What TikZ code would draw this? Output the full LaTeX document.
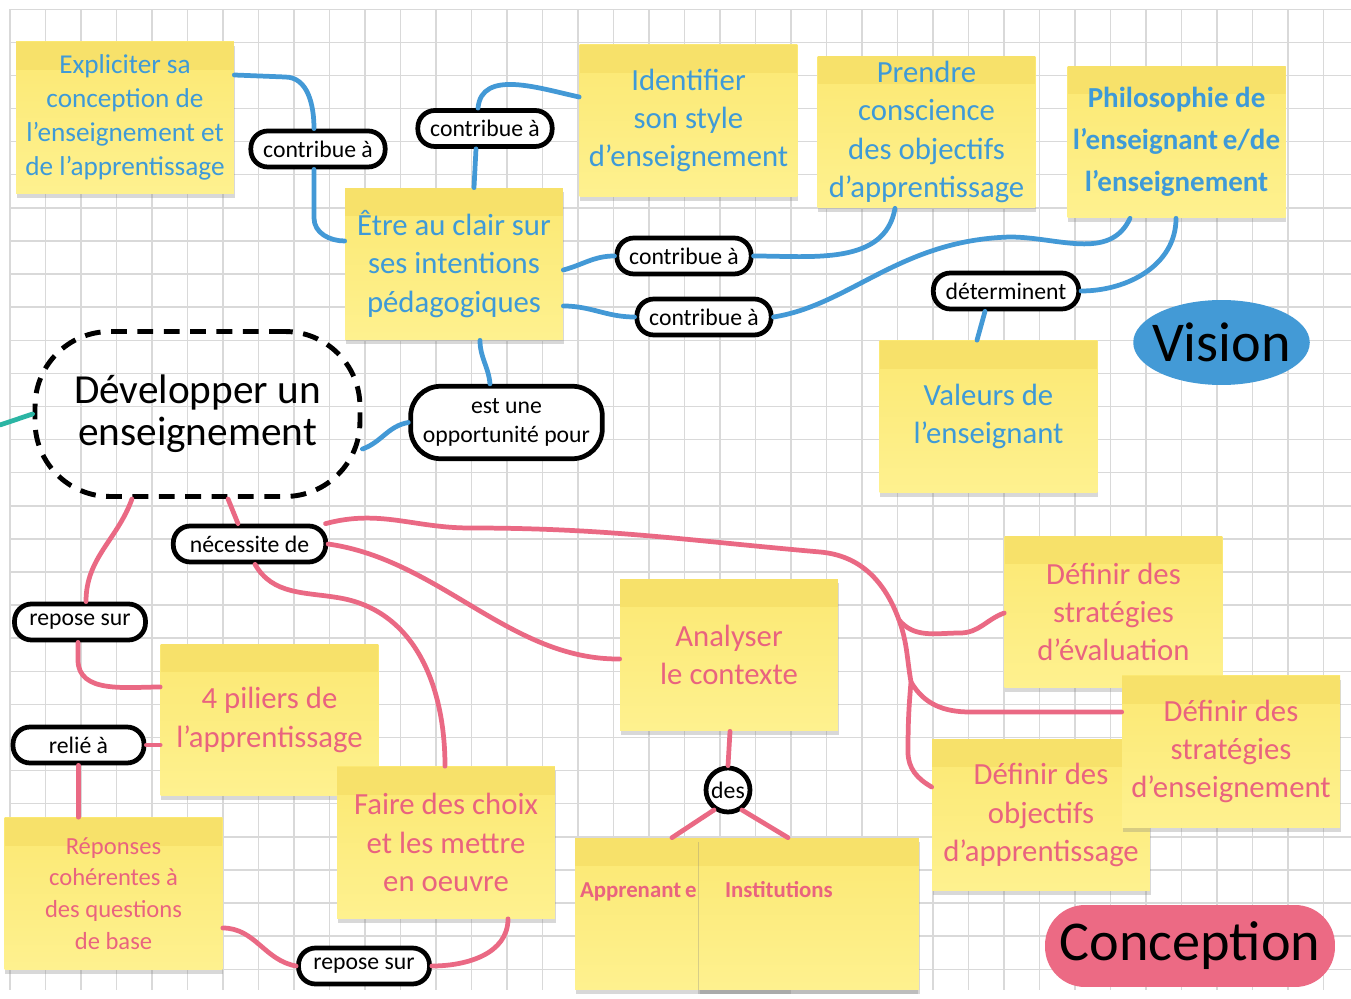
\documentclass[tikz,border=0pt]{standalone}
\usepackage{fontspec}
\setmainfont{Carlito}
\usetikzlibrary{shapes.geometric,shadows,positioning}
\definecolor{notetop}{HTML}{F7E16A}
\definecolor{notebody}{HTML}{FBE872}
\definecolor{notebot}{HTML}{FEF18F}
\definecolor{bluetxt}{HTML}{3E9AD8}
\definecolor{pinktxt}{HTML}{E9637F}
\definecolor{blueline}{HTML}{4399D6}
\definecolor{pinkline}{HTML}{EA6984}
\definecolor{tealline}{HTML}{2BB5A4}
\definecolor{gridgray}{HTML}{D9D9D9}
\definecolor{visionblue}{HTML}{439AD6}
\definecolor{conceptpink}{HTML}{EC6A84}

\begin{document}
\begin{tikzpicture}[x=0.02cm, y=-0.02cm,
  gridline/.style={draw=gridgray, line width=0.8pt},
  note/.style={top color=notebody, bottom color=notebot, minimum width=4.36cm, minimum height=3.04cm, align=center, inner sep=2pt, font=\fontsize{17.5}{21.7}\selectfont, drop shadow={shadow xshift=0.4pt, shadow yshift=-2.4pt, opacity=0.3}, path picture={\fill[notetop] (path picture bounding box.north west) rectangle ([yshift=-0.56cm]path picture bounding box.north east);}},
  bubble/.style={draw=black, line width=2.7pt, fill=white, rounded corners=0.34cm, minimum width=2.62cm, minimum height=0.72cm, inner xsep=7pt, inner ysep=2pt, font=\fontsize{13.5}{16.4}\selectfont},
  blob/.style={text=black, inner sep=0pt, font=\fontsize{32}{32}\selectfont},
  bline/.style={draw=blueline, line width=2.7pt, line cap=round},
  pline/.style={draw=pinkline, line width=2.7pt, line cap=round},
  tline/.style={draw=tealline, line width=2.7pt, line cap=round}]
\useasboundingbox[fill=white] (0,0) rectangle (1351,999);
\foreach \gx in {0,...,37} \draw[gridline] ({9.8+35.5*\gx},9.3) -- ({9.8+35.5*\gx},990);
\foreach \gy in {0,...,29} \draw[gridline] (9.8,{9.3+33.1*\gy}) -- (1351,{9.3+33.1*\gy});

\node[note, text=bluetxt, font=\fontsize{15.5}{19.3}\selectfont] (expl) at (125,117.5) {Expliciter sa\\conception de\\l’enseignement et\\de l’apprentissage};
\node[note, text=bluetxt] (ident) at (688.5,120.5) {Identifier\\son style\\d’enseignement};
\node[note, text=bluetxt] (prendre) at (926.5,132) {Prendre\\conscience\\des objectifs\\d’apprentissage};
\node[note, text=bluetxt, font=\bfseries\fontsize{16.5}{24}\selectfont] (philo) at (1176.5,142) {Philosophie de\\l’enseignant\,e/de\\l’enseignement};
\node[note, text=bluetxt] (etre) at (454,264) {Être au clair sur\\ses intentions\\pédagogiques};
\node[note, text=bluetxt] (valeurs) at (988.5,416.5) {Valeurs de\\l’enseignant};
\node[note, text=pinktxt] (analyser) at (729,655) {Analyser\\le contexte};
\node[note, text=pinktxt] (defeval) at (1113.5,612) {Définir des\\stratégies\\d’évaluation};
\node[note, text=pinktxt] (defobj) at (1041,815) {Définir des\\objectifs\\d’apprentissage};
\node[note, text=pinktxt] (defens) at (1231,751.5) {Définir des\\stratégies\\d’enseignement};
\node[note, text=pinktxt] (piliers) at (269.5,720) {4 piliers de\\l’apprentissage};
\node[note, text=pinktxt] (faire) at (446,842.5) {Faire des choix\\et les mettre\\en oeuvre};
\node[note, text=pinktxt, font=\fontsize{14}{18.1}\selectfont] (reponses) at (113.5,893.5) {Réponses\\cohérentes à\\des questions\\de base};
\node[note, text=pinktxt, minimum width=4.3cm, text width=4.1cm, align=left, text height=0.35cm, text depth=1.0cm, font=\bfseries\fontsize{13}{15}\selectfont] (appr) at (682.5,914) {Apprenant\,e};
\node[note, text=pinktxt, minimum width=4.4cm, text width=4.2cm, align=left, text height=0.35cm, text depth=1.0cm, font=\bfseries\fontsize{13}{15}\selectfont, drop shadow={shadow xshift=-0.8pt, shadow yshift=-2.4pt, opacity=0.3}] (instit) at (809,914) {\hspace*{0.42cm}Institutions};

\node[draw=black, line width=2.8pt, dash pattern=on 9pt off 6pt, rounded corners=1.5cm, minimum width=6.5cm, minimum height=3.3cm, align=center, font=\fontsize{23.5}{23.8}\selectfont] (dev) at (197.5,414) {Développer un\\enseignement};
\node[bubble] (c1) at (318,149) {contribue à};
\node[bubble] (c2) at (485,128.5) {contribue à};
\node[bubble] (c3) at (684,256) {contribue à};
\node[bubble] (c4) at (704,317) {contribue à};
\node[bubble] (det) at (1006,291) {déterminent};
\node[bubble, rounded corners=0.6cm, minimum width=3.6cm, minimum height=1.45cm, align=center] (estune) at (506.5,422.5) {est une\\opportunité pour};
\node[bubble, minimum width=3.05cm] (nec) at (249.5,544) {nécessite de};
\node[bubble] (rep1) at (80,622) {repose sur};
\node[bubble] (relie) at (78.5,745) {relié à};
\node[bubble] (rep2) at (364,966) {repose sur};
\node[bubble, circle, minimum size=0.88cm, minimum width=0pt, inner sep=0pt] (des) at (728,790) {des};
\node[blob, ellipse, fill=visionblue, minimum width=3.5cm, minimum height=1.7cm, inner xsep=-4pt] (vision) at (1221.5,342.5) {Vision};
\node[blob, fill=conceptpink, rounded corners=0.8cm, minimum width=5.8cm, minimum height=1.64cm] (concept) at (1190,946) {Conception};

\coordinate (offleft) at (0,425);
\coordinate (brA) at (899,620);
\coordinate (brB) at (911,682);

\draw[tline] (offleft) -- (dev.west);
\draw[bline] (expl.east |- 0,75) -- (285,77) to[out=0,in=90] (c1.north -| 314,0);
\draw[bline] (c1.south -| 314,0) -- (314,218) to[out=-90,in=180] (etre.west |- 0,241);
\draw[bline] (ident.west |- 0,97) to[out=168,in=85] (c2.north -| 478,0);
\draw[bline] (c2.south -| 476,0) -- (etre.north -| 474,0);
\draw[bline] (etre.east |- 0,270) to[out=15,in=180] (c3.west);
\draw[bline] (c3.east) to[out=0,in=-100] (prendre.south -| 895,0);
\draw[bline] (etre.east |- 0,306) to[out=0,in=180] (c4.west);
\draw[bline] (c4.east) .. controls (850,305) and (900,240) .. (1010,237) to[out=0,in=-115] (philo.south -| 1130,0);
\draw[bline] (philo.south -| 1176,0) to[out=-90,in=0] (det.east);
\draw[bline] (det.south -| 985,0) -- (valeurs.north -| 977,0);
\draw[bline] (etre.south -| 480,0) to[out=-90,in=95] (estune.north -| 490,0);
\draw[bline] (estune.west) to[out=190,in=20] (dev.-12);

\draw[pline] (dev.south -| 132,0) to[out=-110,in=90] (rep1.north -| 86,0);
\draw[pline] (rep1.south -| 78,0) -- (78,660) to[out=-90,in=180] (piliers.west |- 0,687);
\draw[pline] (relie.east) -- (piliers.west |- relie.east);
\draw[pline] (relie.south) -- (reponses.north -| relie.south);
\draw[pline] (dev.south -| 228,0) -- (nec.north -| 238,0);
\draw[pline] (nec.15) to[out=15,in=180] (470,528) to[out=0,in=175] (820,552) to[out=-5,in=110] (brA) to[out=-70,in=100] (brB) to[out=-95,in=90] (908,752) to[out=-90,in=150] (defobj.west |- 0,787);
\draw[pline] (brA) to[out=-50,in=180] (960,633) to[out=0,in=200] (defeval.west |- 0,613);
\draw[pline] (brB) to[out=-60,in=180] (970,712) -- (defens.west |- 0,712);
\draw[pline] (nec.east) .. controls (440,560) and (510,660) .. (analyser.west |- 0,659);
\draw[pline] (nec.south -| 255,0) to[out=-60,in=170] (340,598) to[out=-10,in=90] (faire.north -| 445,0);
\draw[pline] (faire.south -| 508,0) to[out=-90,in=0] (rep2.east);
\draw[pline] (rep2.west) to[out=170,in=0] (reponses.east |- 0,928);
\draw[pline] (analyser.south -| 730,0) -- (des.north);
\draw[pline] (des.-125) -- (appr.north -| 672,0);
\draw[pline] (des.-55) -- (instit.north -| 788,0);
\end{tikzpicture}
\end{document}
